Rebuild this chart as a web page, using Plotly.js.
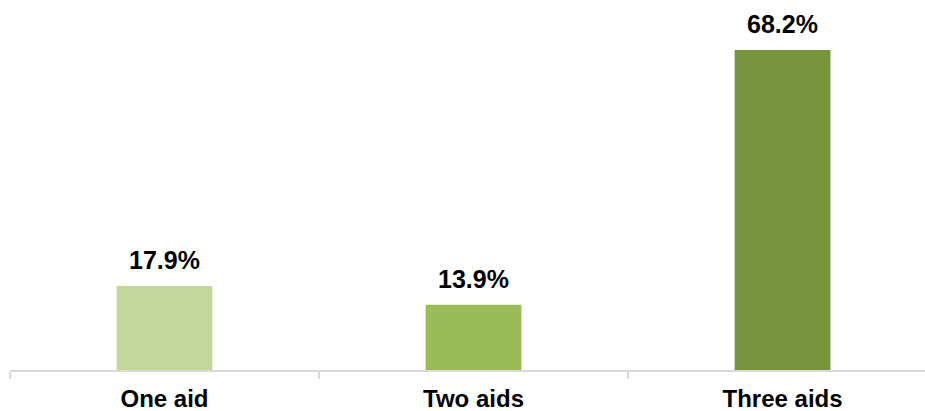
<!DOCTYPE html>
<html>
<head>
<meta charset="utf-8">
<script src="https://cdn.plot.ly/plotly-3.0.1.min.js"></script>
<style>html,body{margin:0;padding:0;background:#fff;}#chart{width:925px;height:411px;}</style>
</head>
<body>
<div id="chart"></div>
<script>
const categories = ["One aid", "Two aids", "Three aids"];
const values = [17.9, 13.9, 68.2];
const barColors = ["#C4D79B", "#9BBB59", "#77933C"];

const font = "Arial, 'Liberation Sans', sans-serif";
const labels = categories.map((c, i) => ({
  x: c, y: values[i], xref: "x", yref: "y",
  text: values[i].toFixed(1) + "%",
  showarrow: false, yanchor: "bottom", yshift: 10,
  font: {family: font, size: 25, color: "#000", weight: "bold"}
}));
Plotly.newPlot("chart", [{
  type: "bar",
  x: categories,
  y: values,
  marker: {color: barColors},
  hoverinfo: "none"
}], {
  width: 925, height: 411,
  margin: {l: 10, r: 0, t: 0, b: 41},
  paper_bgcolor: "#fff", plot_bgcolor: "#fff",
  bargap: 0.69,
  showlegend: false,
  annotations: labels,
  xaxis: {
    type: "category",
    range: [-0.5, 2.461],
    showline: true, linecolor: "#D9D9D9", linewidth: 2,
    ticks: "outside", tickson: "boundaries", ticklen: 7, tickcolor: "#D9D9D9", tickwidth: 2,
    ticklabelstandoff: 6,
    tickfont: {family: font, size: 24, color: "#000", weight: "bold"},
    showgrid: false, zeroline: false, fixedrange: true
  },
  yaxis: {
    range: [0, 78.86],
    visible: false, showgrid: false, zeroline: false, fixedrange: true
  }
}, {staticPlot: true});
</script>
</body>
</html>
